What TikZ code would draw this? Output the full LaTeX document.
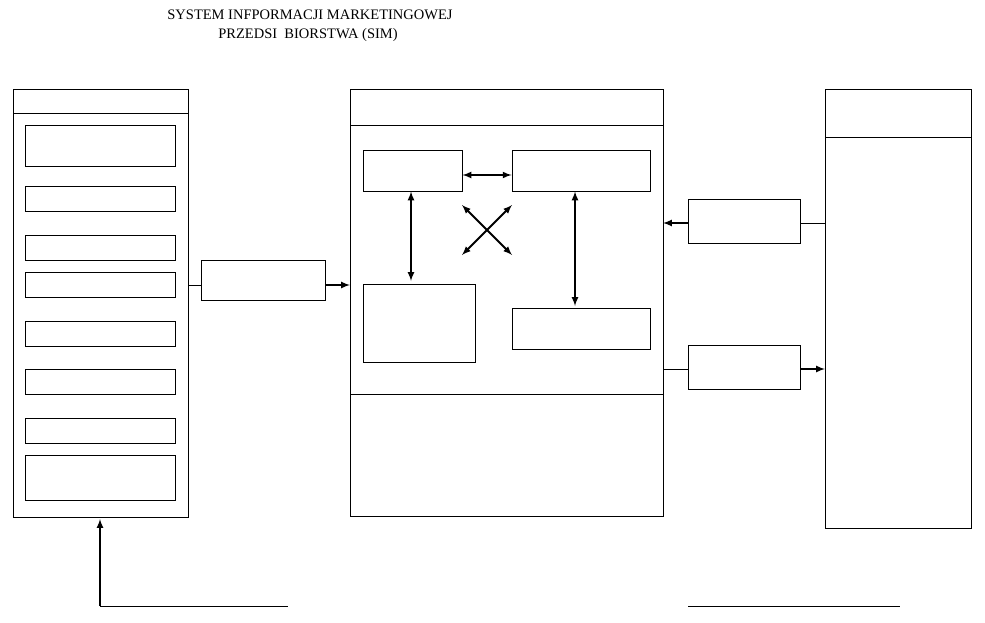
\documentclass[tikz,border=0pt]{standalone}
\usepackage{fontspec}
\setmainfont{Liberation Serif}
\usetikzlibrary{arrows}
\tikzstyle{box} = [draw, line width=0.9pt, rectangle]
\tikzstyle{line} = [draw, line width=2pt, -latex]
\tikzstyle{both} = [draw, line width=2pt, latex-latex]

\begin{document}
\begin{tikzpicture}[x=1pt,y=-1pt]

		\useasboundingbox (0,0) rectangle (985,623);

		% title
		\node (title1) at (310,15) {\fontsize{14.5}{16}\selectfont SYSTEM INFPORMACJI MARKETINGOWEJ};
		\node (title2) at (308,35) {\fontsize{14.5}{16}\selectfont PRZEDSI\ \ BIORSTWA (SIM)};

		% left panel
		\draw [box] (13,89) rectangle (188,517);
		\draw [line width=0.9pt] (13,113) -- (188,113);
		\foreach \a/\b in {125/166,186/211,235/260,272/297,321/346,369/394,418/443,455/500}
			\draw [box] (25,\a) rectangle (175,\b);

		\coordinate (lout) at (188,285);
		\node [box, minimum width=124pt, minimum height=40pt, inner sep=0pt] (input) at (263,280) {};
		\draw [thin] (lout) -- (lout -| input.west);
		\coordinate (cin) at (350,285);
		\draw [line] (input.east |- cin) -- (cin);

		% centre panel
		\draw [box] (350,89) rectangle (663,516);
		\draw [line width=0.9pt] (350,125) -- (663,125);
		\draw [line width=0.9pt] (350,394) -- (663,394);
		\node [box, minimum width=99pt, minimum height=41pt, inner sep=0pt] (ba) at (412.5,170.5) {};
		\node [box, minimum width=138pt, minimum height=41pt, inner sep=0pt] (bb) at (581,170.5) {};
		\node [box, minimum width=112pt, minimum height=78pt, inner sep=0pt] (bc) at (419,323) {};
		\node [box, minimum width=138pt, minimum height=41pt, inner sep=0pt] (bd) at (581,328.5) {};
		\draw [both] (ba.east |- 0,175) -- (bb.west |- 0,175);
		\draw [both] (ba.south -| 411,0) -- (411,281);
		\draw [both] (bb.south -| 575,0) -- (575,306);
		\draw [both] (462,205) -- (512,255);
		\draw [both] (512,205) -- (462,255);

		% right panel
		\draw [box] (825,89) rectangle (971,528);
		\draw [line width=0.9pt] (825,137) -- (971,137);
		\node [box, minimum width=112pt, minimum height=44pt, inner sep=0pt] (be) at (744,221) {};
		\node [box, minimum width=112pt, minimum height=44pt, inner sep=0pt] (bf) at (744,367) {};
		\coordinate (rin) at (825,223);
		\coordinate (cout) at (663,223);
		\draw [thin] (rin) -- (rin -| be.east);
		\draw [line] (be.west |- cout) -- (cout);
		\coordinate (cout2) at (663,369);
		\coordinate (rout) at (825,369);
		\draw [thin] (cout2) -- (cout2 -| bf.west);
		\draw [line] (bf.east |- rout) -- (rout);

		% bottom
		\coordinate (fb) at (100,606);
		\draw [line] (fb) -- (100,519);
		\draw [thin] (fb) -- (288,606);
		\draw [thin] (688,606) -- (900,606);

\end{tikzpicture}
\end{document}
